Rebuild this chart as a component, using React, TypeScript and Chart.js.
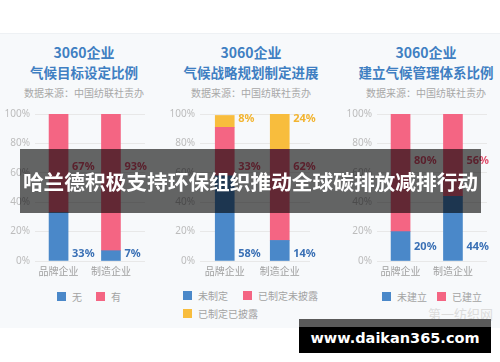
import React, { useEffect, useRef } from 'react';
import { Chart, registerables } from 'chart.js';

Chart.register(...registerables);

// ---------- data ----------
const categories = ['品牌企业', '制造企业'];

const p1Title = ['3060企业', '气候目标设定比例'];
const p1Series = ['无', '有'];
const p1None = [33, 7];
const p1Has = [67, 93];

const p2Title = ['3060企业', '气候战略规划制定进展'];
const p2Series = ['未制定', '已制定未披露', '已制定已披露'];
const p2NotSet = [58, 14];
const p2SetUndisclosed = [33, 62];
const p2SetDisclosed = [8, 24];

const p3Title = ['3060企业', '建立气候管理体系比例'];
const p3Series = ['未建立', '已建立'];
const p3NotBuilt = [20, 44];
const p3Built = [80, 56];

const sourceText = '数据来源：中国纺联社责办';
const bannerText = '哈兰德积极支持环保组织推动全球碳排放减排行动';
const watermarkText = '第一纺织网';
const siteText = 'www.daikan365.com';

// ---------- styles ----------
const BLUE = '#4a88c9';
const PINK = '#f46583';
const YELLOW = '#f8bd3d';
const BLUE_TXT = '#3a70b5';
const PINK_TXT = '#e0506e';
const YELLOW_TXT = '#f2b430';
const TITLE_BLUE = '#3f7fc2';
const CJK = '"Noto Sans CJK SC", "Noto Sans", sans-serif';

const valueLabelPlugin = {
  id: 'valueLabels',
  afterDatasetsDraw(chart: any, _args: any, opts: any) {
    const { ctx } = chart;
    const ys = chart.scales.y;
    chart.data.datasets.forEach((ds: any, di: number) => {
      const meta = chart.getDatasetMeta(di);
      meta.data.forEach((bar: any, i: number) => {
        const v = ds.data[i].y;
        ctx.save();
        ctx.font = 'bold 11px "Noto Sans", "Liberation Sans", sans-serif';
        ctx.fillStyle = opts.colors[di];
        ctx.textBaseline = 'middle';
        ctx.textAlign = 'left';
        ctx.fillText(v + '%', bar.x + bar.width / 2 + 4, ys.getPixelForValue(opts.ys[di]));
        ctx.restore();
      });
    });
  },
};

type PanelProps = {
  left: number;
  xMax: number;
  step: number;
  series: string[];
  values: number[][];
  colors: string[];
  labelColors: string[];
  labelYs: number[];
};

function PanelChart({ left, xMax, step, series, values, colors, labelColors, labelYs }: PanelProps) {
  const ref = useRef<HTMLCanvasElement>(null);
  useEffect(() => {
    if (!ref.current) return;
    const chart = new Chart(ref.current, {
      type: 'bar',
      data: {
        datasets: series.map((s, si) => ({
          label: s,
          data: values[si].map((v, i) => ({ x: i, y: v })),
          backgroundColor: colors[si],
          barThickness: 19,
          stack: 's',
        })),
      },
      options: {
        animation: false,
        responsive: false,
        maintainAspectRatio: false,
        layout: { padding: { top: 0, right: 10, bottom: 0, left: 0 } },
        plugins: {
          legend: { display: false },
          tooltip: { enabled: false },
          valueLabels: { colors: labelColors, ys: labelYs },
        } as any,
        scales: {
          x: {
            type: 'linear',
            offset: false,
            min: -0.45,
            max: xMax,
            stacked: true,
            grid: { display: false, offset: false, drawTicks: false },
            border: { display: false },
            afterBuildTicks: (s: any) => {
              s.ticks = [{ value: 0 }, { value: 1 }];
            },
            afterFit: (s: any) => {
              s.height = 20;
            },
            ticks: {
              autoSkip: false,
              maxRotation: 0,
              padding: 4,
              color: '#a0a0a0',
              font: { size: 10, family: CJK },
              callback: (v: any) => categories[v] ?? '',
            },
          },
          y: {
            stacked: true,
            min: 0,
            max: 100,
            grid: { color: '#e8e8e8', drawTicks: false },
            border: { display: false },
            afterFit: (s: any) => {
              s.width = 35;
            },
            ticks: {
              stepSize: step,
              padding: 5,
              color: '#bcbcbc',
              font: { size: 10, family: '"Noto Sans", sans-serif' },
              callback: (v: any) => v + '%',
            },
          },
        } as any,
      },
      plugins: [valueLabelPlugin],
    });
    return () => chart.destroy();
  }, []);
  return (
    <canvas
      ref={ref}
      width={155}
      height={178}
      style={{ position: 'absolute', left, top: 103, width: 155, height: 178 }}
    />
  );
}

function Titles({ cx, title }: { cx: number; title: string[] }) {
  const base: React.CSSProperties = {
    position: 'absolute',
    left: cx - 90,
    width: 180,
    textAlign: 'center',
    whiteSpace: 'nowrap',
    fontFamily: CJK,
  };
  return (
    <>
      <div style={{ ...base, top: 43, height: 18, lineHeight: '18px', fontSize: 14, fontWeight: 700, color: TITLE_BLUE }}>
        {title[0]}
      </div>
      <div style={{ ...base, top: 63, height: 18, lineHeight: '18px', fontSize: 13.5, fontWeight: 700, color: TITLE_BLUE }}>
        {title[1]}
      </div>
      <div style={{ ...base, top: 87, height: 12, lineHeight: '12px', fontSize: 10, color: '#a8a8a8' }}>{sourceText}</div>
    </>
  );
}

function LegendItem({ x, y, color, text }: { x: number; y: number; color: string; text: string }) {
  return (
    <>
      <div style={{ position: 'absolute', left: x, top: y, width: 9, height: 9, background: color }} />
      <div
        style={{
          position: 'absolute',
          left: x + 15,
          top: y - 2,
          height: 13,
          lineHeight: '13px',
          fontSize: 10,
          color: '#a3a3a3',
          fontFamily: CJK,
          whiteSpace: 'nowrap',
        }}
      >
        {text}
      </div>
    </>
  );
}

export default function App() {
  useEffect(() => {
    document.body.style.margin = '0';
  }, []);
  return (
    <div style={{ position: 'absolute', left: 0, top: 0, width: 500, height: 362, background: '#ffffff', overflow: 'hidden' }}>
      <div style={{ position: 'absolute', left: 0, top: 33, width: 500, height: 294, background: '#f7f9fb', borderTop: '1px solid #eef1f4' }} />

      <Titles cx={84} title={p1Title} />
      <Titles cx={251} title={p2Title} />
      <Titles cx={426} title={p3Title} />

      <PanelChart
        left={0}
        xMax={1.65}
        step={10}
        series={p1Series}
        values={[p1None, p1Has]}
        colors={[BLUE, PINK]}
        labelColors={[BLUE_TXT, PINK_TXT]}
        labelYs={[5, 64]}
      />
      <PanelChart
        left={165}
        xMax={1.55}
        step={10}
        series={p2Series}
        values={[p2NotSet, p2SetUndisclosed, p2SetDisclosed]}
        colors={[BLUE, PINK, YELLOW]}
        labelColors={[BLUE_TXT, PINK_TXT, YELLOW_TXT]}
        labelYs={[5, 64, 96.5]}
      />
      <PanelChart
        left={342}
        xMax={1.65}
        step={20}
        series={p3Series}
        values={[p3NotBuilt, p3Built]}
        colors={[BLUE, PINK]}
        labelColors={[BLUE_TXT, PINK_TXT]}
        labelYs={[9.6, 68]}
      />

      <LegendItem x={57} y={292} color={BLUE} text={p1Series[0]} />
      <LegendItem x={96} y={292} color={PINK} text={p1Series[1]} />

      <LegendItem x={183} y={291} color={BLUE} text={p2Series[0]} />
      <LegendItem x={243} y={291} color={PINK} text={p2Series[1]} />
      <LegendItem x={183} y={309} color={YELLOW} text={p2Series[2]} />

      <LegendItem x={382} y={292} color={BLUE} text={p3Series[0]} />
      <LegendItem x={437} y={292} color={PINK} text={p3Series[1]} />

      <div
        style={{
          position: 'absolute',
          left: 20,
          top: 149,
          width: 461,
          height: 64,
          background: 'rgba(0,0,0,0.6)',
          color: '#ffffff',
          fontFamily: CJK,
          fontWeight: 700,
          fontSize: 20.7,
          lineHeight: '64px',
          textAlign: 'center',
          whiteSpace: 'nowrap',
        }}
      >
        {bannerText}
      </div>

      <div
        style={{
          position: 'absolute',
          left: 428,
          top: 306,
          fontFamily: CJK,
          fontSize: 13,
          lineHeight: '16px',
          color: '#dcdcdc',
          whiteSpace: 'nowrap',
        }}
      >
        {watermarkText}
      </div>

      <div style={{ position: 'absolute', left: 299, top: 319, width: 192, height: 8, background: '#5a5a5a' }} />
      <div
        style={{
          position: 'absolute',
          left: 299,
          top: 327,
          width: 192,
          height: 26,
          background: '#000000',
          color: '#ffffff',
          fontFamily: '"DejaVu Sans", sans-serif',
          fontWeight: 700,
          fontSize: 14.5,
          lineHeight: '22px',
          textAlign: 'center',
          whiteSpace: 'nowrap',
        }}
      >
        {siteText}
      </div>
    </div>
  );
}
